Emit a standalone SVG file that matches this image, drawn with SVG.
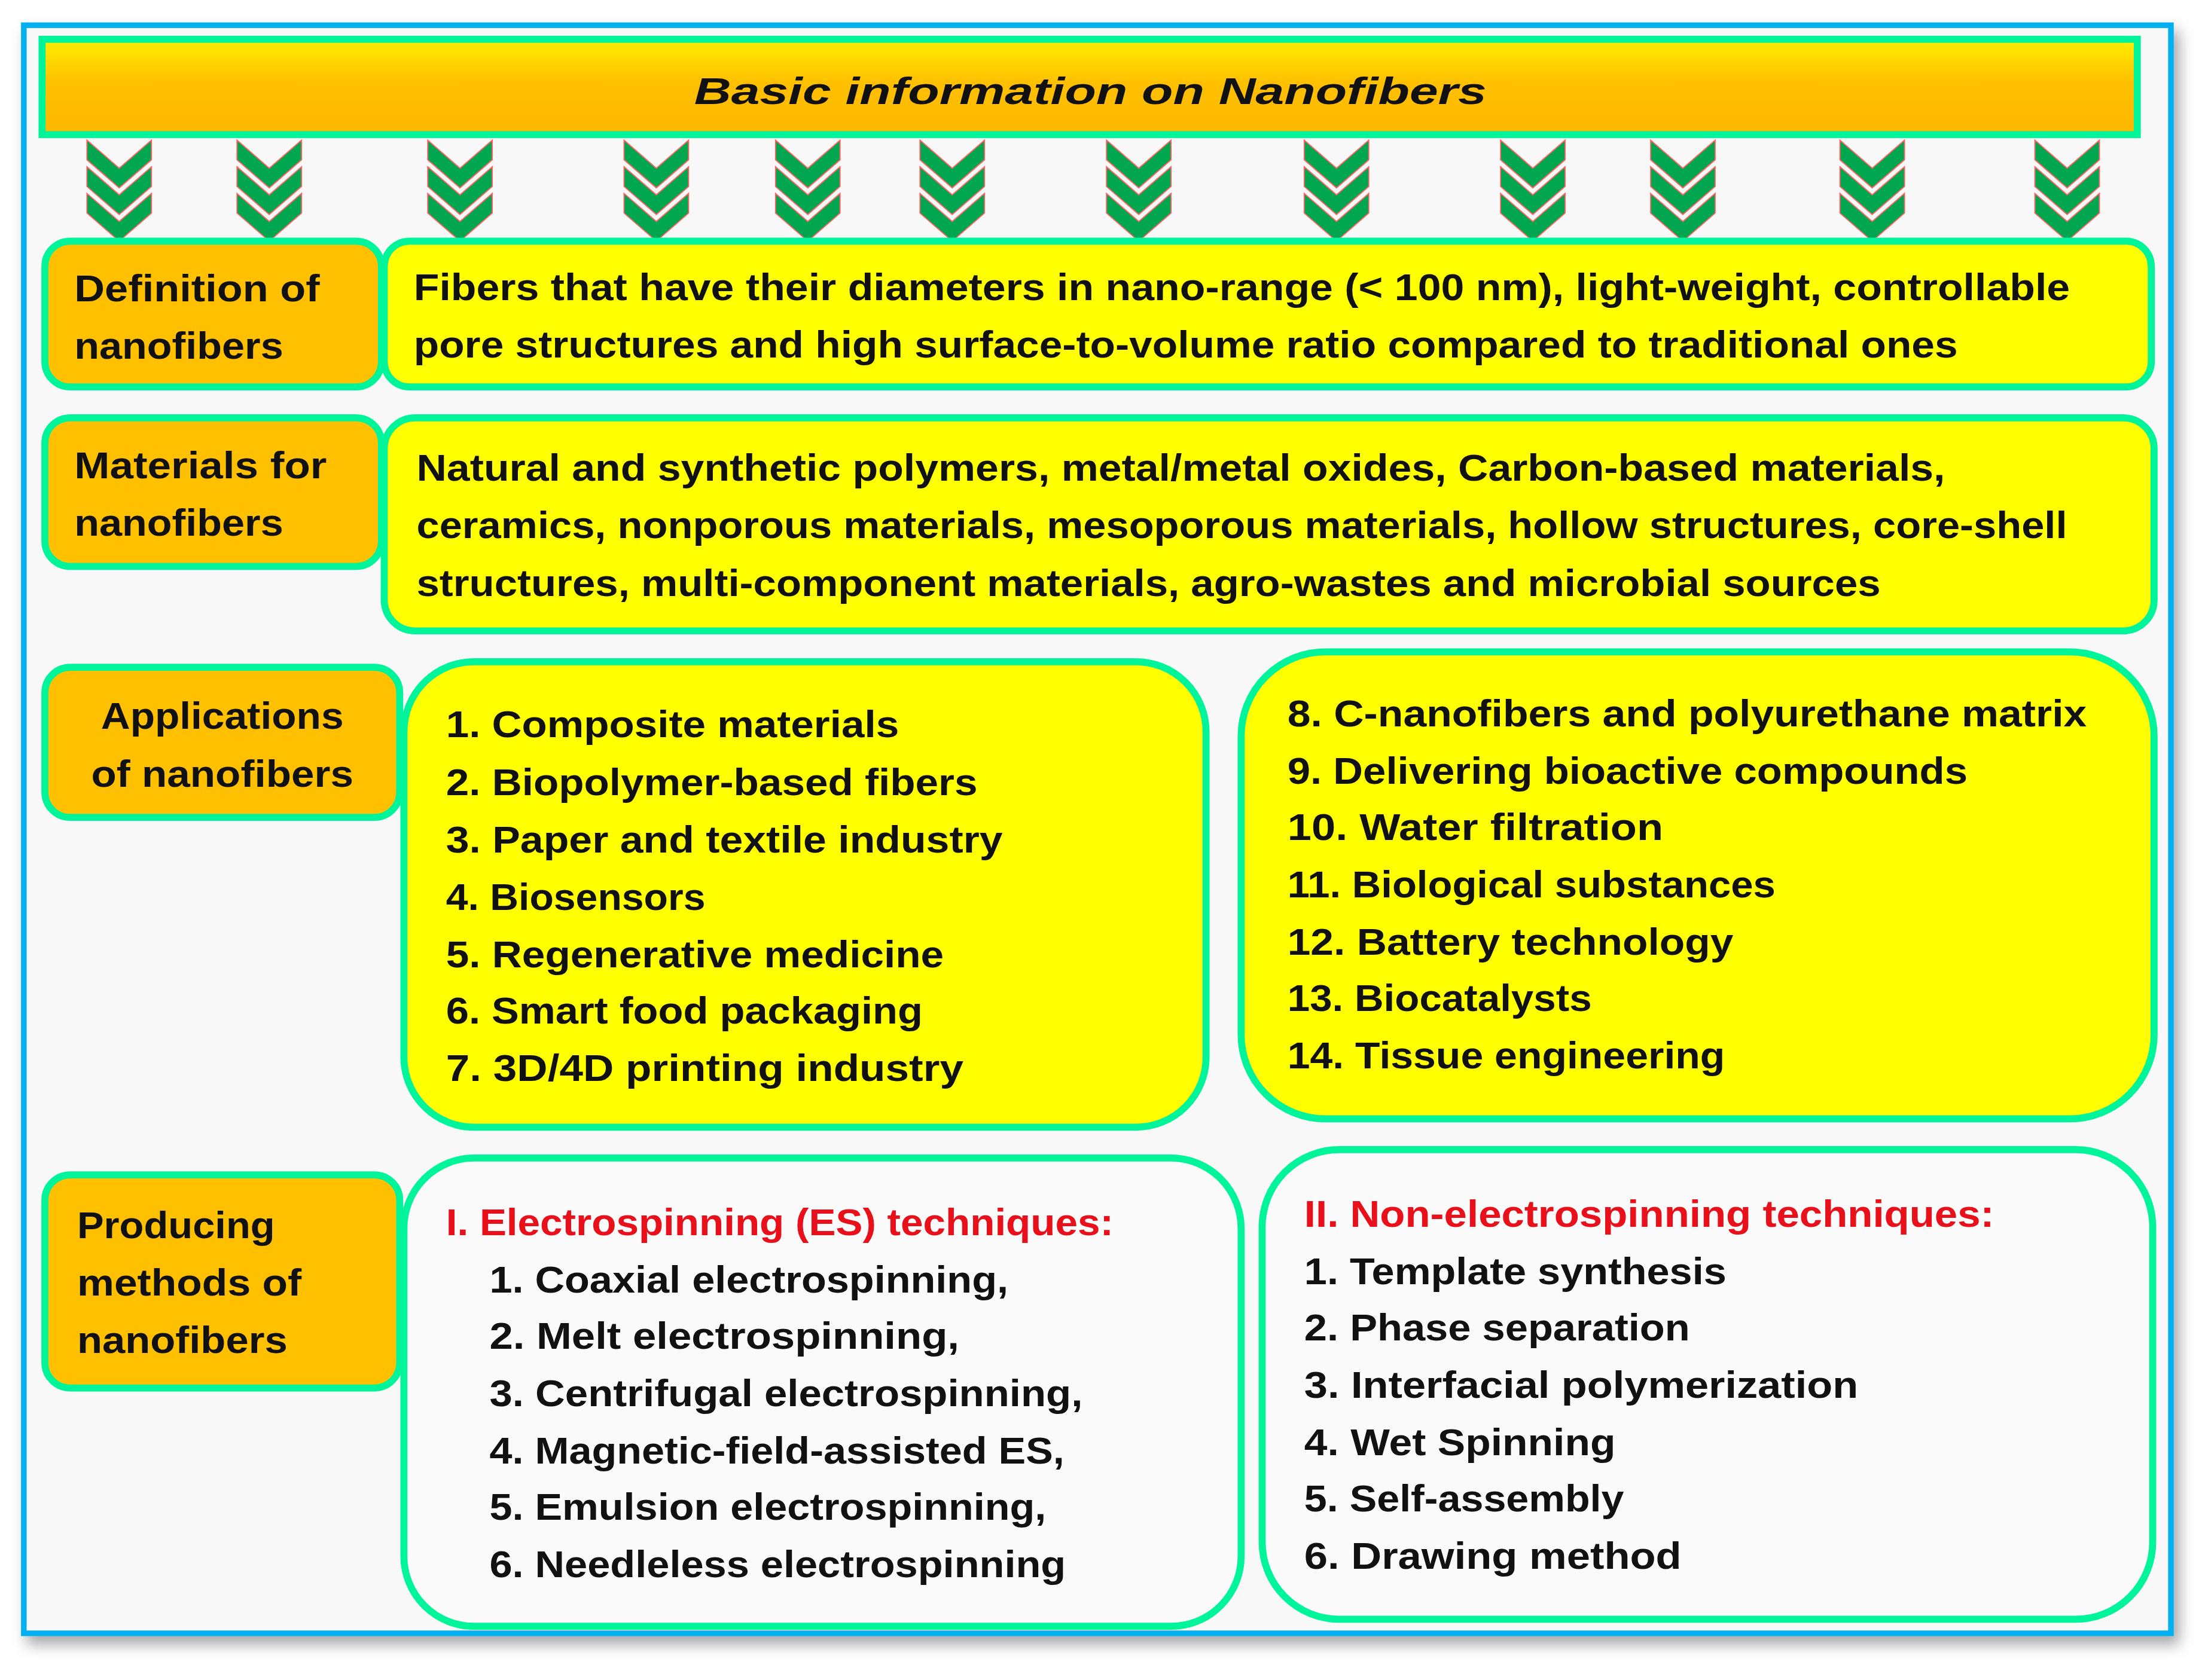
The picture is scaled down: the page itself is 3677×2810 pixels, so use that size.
<svg xmlns="http://www.w3.org/2000/svg" width="3677" height="2810" viewBox="0 0 3677 2810">
<defs>
<linearGradient id="tg" x1="0" y1="0" x2="0" y2="1"><stop offset="0" stop-color="#ffee00"/><stop offset="0.45" stop-color="#ffc000"/><stop offset="1" stop-color="#ffb800"/></linearGradient>
<filter id="sh" x="-5%" y="-5%" width="110%" height="110%"><feDropShadow dx="4" dy="6" stdDeviation="5" flood-color="#000" flood-opacity="0.35"/></filter>
<g id="chev"><path id="v" d="M-23,0 L0,20 L23,0 L23,14 L0,34 L-23,14 Z"/><use href="#v" y="19"/><use href="#v" y="38"/></g>
</defs>
<style>
.box{stroke:#00f59b;stroke-width:5}
.or{fill:#ffc000}.ye{fill:#ffff00}.wh{fill:#fafafa}
text{font-family:"Liberation Sans",Arial,sans-serif;font-weight:bold;font-size:27px;fill:#111}
.red{fill:#e8101a}
.ch{fill:#00a650;stroke:#ff6060;stroke-width:0.8}
</style>
<rect width="3677" height="2810" fill="#ffffff"/>
<g transform="scale(2.345)">
<g id="frame"><rect x="17" y="18" width="1531" height="1147" fill="#f8f8f8" stroke="#00b0f0" stroke-width="4" filter="url(#sh)"/></g>
<g id="title"><rect x="30" y="28" width="1494" height="68" fill="url(#tg)" stroke="#00f59b" stroke-width="5"/>
<text x="495" y="74" font-style="italic" font-size="33" textLength="565" lengthAdjust="spacingAndGlyphs">Basic information on Nanofibers</text></g>
<g id="connectors" class="ch">
<use href="#chev" x="85" y="100"/><use href="#chev" x="192" y="100"/><use href="#chev" x="328" y="100"/><use href="#chev" x="468" y="100"/><use href="#chev" x="576" y="100"/><use href="#chev" x="679" y="100"/><use href="#chev" x="812" y="100"/><use href="#chev" x="953" y="100"/><use href="#chev" x="1093" y="100"/><use href="#chev" x="1200" y="100"/><use href="#chev" x="1335" y="100"/><use href="#chev" x="1474" y="100"/>
</g>
<g id="def-label"><rect class="box or" x="32" y="172" width="240" height="104" rx="18"/>
<text x="53" y="215" textLength="175" lengthAdjust="spacingAndGlyphs">Definition of</text><text x="53" y="256" textLength="149" lengthAdjust="spacingAndGlyphs">nanofibers</text></g>
<g id="def-text"><rect class="box ye" x="274" y="172" width="1260" height="104" rx="18"/>
<text x="295" y="214" textLength="1181" lengthAdjust="spacingAndGlyphs">Fibers that have their diameters in nano-range (&lt; 100 nm), light-weight, controllable</text>
<text x="295" y="255" textLength="1101" lengthAdjust="spacingAndGlyphs">pore structures and high surface-to-volume ratio compared to traditional ones</text></g>
<g id="mat-label"><rect class="box or" x="32" y="298" width="240" height="106" rx="18"/>
<text x="53" y="341" textLength="180" lengthAdjust="spacingAndGlyphs">Materials for</text><text x="53" y="382" textLength="149" lengthAdjust="spacingAndGlyphs">nanofibers</text></g>
<g id="mat-text"><rect class="box ye" x="274" y="298" width="1262" height="152" rx="22"/>
<text x="297" y="343" textLength="1090" lengthAdjust="spacingAndGlyphs">Natural and synthetic polymers, metal/metal oxides, Carbon-based materials,</text>
<text x="297" y="384" textLength="1177" lengthAdjust="spacingAndGlyphs">ceramics, nonporous materials, mesoporous materials, hollow structures, core-shell</text>
<text x="297" y="425" textLength="1044" lengthAdjust="spacingAndGlyphs">structures, multi-component materials, agro-wastes and microbial sources</text></g>
<g id="app-label"><rect class="box or" x="32" y="476" width="253" height="107" rx="18"/>
<text x="72" y="520" textLength="173" lengthAdjust="spacingAndGlyphs">Applications</text><text x="65" y="561" textLength="187" lengthAdjust="spacingAndGlyphs">of nanofibers</text></g>
<g id="app-list1"><rect class="box ye" x="288" y="472" width="572" height="332" rx="50"/>
<text x="318" y="526" textLength="323" lengthAdjust="spacingAndGlyphs">1. Composite materials</text>
<text x="318" y="567" textLength="379" lengthAdjust="spacingAndGlyphs">2. Biopolymer-based fibers</text>
<text x="318" y="608" textLength="397" lengthAdjust="spacingAndGlyphs">3. Paper and textile industry</text>
<text x="318" y="649" textLength="185" lengthAdjust="spacingAndGlyphs">4. Biosensors</text>
<text x="318" y="690" textLength="355" lengthAdjust="spacingAndGlyphs">5. Regenerative medicine</text>
<text x="318" y="730" textLength="340" lengthAdjust="spacingAndGlyphs">6. Smart food packaging</text>
<text x="318" y="771" textLength="369" lengthAdjust="spacingAndGlyphs">7. 3D/4D printing industry</text></g>
<g id="app-list2"><rect class="box ye" x="885" y="465" width="651" height="333" rx="60"/>
<text x="918" y="518" textLength="570" lengthAdjust="spacingAndGlyphs">8. C-nanofibers and polyurethane matrix</text>
<text x="918" y="559" textLength="485" lengthAdjust="spacingAndGlyphs">9. Delivering bioactive compounds</text>
<text x="918" y="599" textLength="268" lengthAdjust="spacingAndGlyphs">10. Water filtration</text>
<text x="918" y="640" textLength="348" lengthAdjust="spacingAndGlyphs">11. Biological substances</text>
<text x="918" y="681" textLength="318" lengthAdjust="spacingAndGlyphs">12. Battery technology</text>
<text x="918" y="721" textLength="217" lengthAdjust="spacingAndGlyphs">13. Biocatalysts</text>
<text x="918" y="762" textLength="312" lengthAdjust="spacingAndGlyphs">14. Tissue engineering</text></g>
<g id="prod-label"><rect class="box or" x="32" y="838" width="253" height="152" rx="18"/>
<text x="55" y="883" textLength="141" lengthAdjust="spacingAndGlyphs">Producing</text><text x="55" y="924" textLength="160" lengthAdjust="spacingAndGlyphs">methods of</text><text x="55" y="965" textLength="150" lengthAdjust="spacingAndGlyphs">nanofibers</text></g>
<g id="es-methods"><rect class="box wh" x="288" y="826" width="597" height="334" rx="50"/>
<text class="red" x="318" y="881" textLength="476" lengthAdjust="spacingAndGlyphs">I. Electrospinning (ES) techniques:</text>
<text x="349" y="922" textLength="370" lengthAdjust="spacingAndGlyphs">1. Coaxial electrospinning,</text>
<text x="349" y="962" textLength="335" lengthAdjust="spacingAndGlyphs">2. Melt electrospinning,</text>
<text x="349" y="1003" textLength="423" lengthAdjust="spacingAndGlyphs">3. Centrifugal electrospinning,</text>
<text x="349" y="1044" textLength="410" lengthAdjust="spacingAndGlyphs">4. Magnetic-field-assisted ES,</text>
<text x="349" y="1084" textLength="397" lengthAdjust="spacingAndGlyphs">5. Emulsion electrospinning,</text>
<text x="349" y="1125" textLength="411" lengthAdjust="spacingAndGlyphs">6. Needleless electrospinning</text></g>
<g id="non-es-methods"><rect class="box wh" x="900" y="820" width="635" height="335" rx="55"/>
<text class="red" x="930" y="875" textLength="492" lengthAdjust="spacingAndGlyphs">II. Non-electrospinning techniques:</text>
<text x="930" y="916" textLength="301" lengthAdjust="spacingAndGlyphs">1. Template synthesis</text>
<text x="930" y="956" textLength="275" lengthAdjust="spacingAndGlyphs">2. Phase separation</text>
<text x="930" y="997" textLength="395" lengthAdjust="spacingAndGlyphs">3. Interfacial polymerization</text>
<text x="930" y="1038" textLength="222" lengthAdjust="spacingAndGlyphs">4. Wet Spinning</text>
<text x="930" y="1078" textLength="228" lengthAdjust="spacingAndGlyphs">5. Self-assembly</text>
<text x="930" y="1119" textLength="269" lengthAdjust="spacingAndGlyphs">6. Drawing method</text></g>
</g>
</svg>
